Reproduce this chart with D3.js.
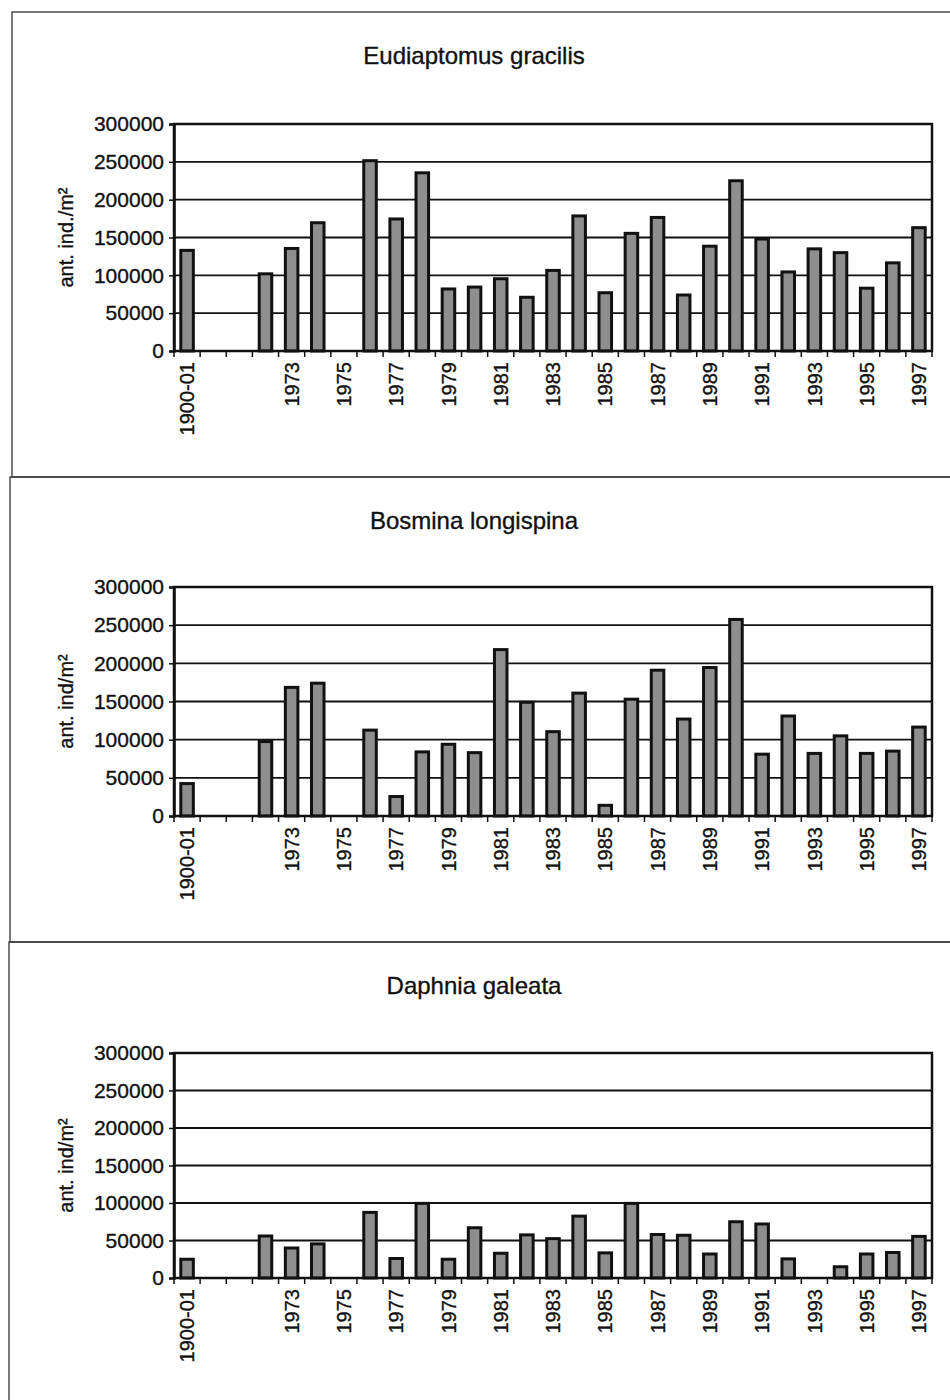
<!DOCTYPE html>
<html>
<head>
<meta charset="utf-8">
<script src="https://cdn.jsdelivr.net/npm/d3@7"></script>
<style>
  html, body { margin: 0; padding: 0; background: #fff; }
  svg { display: block; }
  text { font-family: "Liberation Sans", Arial, sans-serif; fill: #111; stroke: #111; stroke-width: 0.35px; }
</style>
</head>
<body>
<div id="chart"></div>
<script>
// ---- data ----
const categories = ["1900-01", "", "", "1972", "1973", "1974", "1975", "1976", "1977", "1978",
  "1979", "1980", "1981", "1982", "1983", "1984", "1985", "1986", "1987", "1988",
  "1989", "1990", "1991", "1992", "1993", "1994", "1995", "1996", "1997"];

const eudiaptomus = [133000, null, null, 102000, 135500, 169500, 0, 251500, 174500, 235500,
  82000, 84500, 95500, 71000, 106500, 178500, 77000, 155500, 176500, 74000,
  138500, 225000, 148000, 104500, 135000, 130000, 83000, 116500, 163000];

const bosmina = [42500, null, null, 97500, 168500, 174000, 0, 112500, 25500, 84000,
  94000, 83000, 218000, 149000, 110500, 161000, 14000, 153000, 191000, 127000,
  194500, 257500, 81000, 131000, 82000, 105000, 82000, 85000, 116500];

const daphnia = [25000, null, null, 56000, 40000, 45500, 0, 87500, 26000, 99500,
  25000, 67000, 33000, 57500, 52500, 82500, 33500, 99500, 58000, 57000,
  32000, 75000, 72000, 25500, 0, 15000, 32000, 34000, 55500];

const yTicks = [0, 50000, 100000, 150000, 200000, 250000, 300000];

const panels = [
  { title: "Eudiaptomus gracilis", ylabel: "ant. ind./m²", values: eudiaptomus },
  { title: "Bosmina longispina", ylabel: "ant. ind/m²", values: bosmina },
  { title: "Daphnia galeata", ylabel: "ant. ind/m²", values: daphnia }
];

// ---- layout ----
const W = 950, H = 1400;
const frames = [
  { x: 12, y: 12, bottom: 477, plotTop: 124, plotBottom: 351 },
  { x: 10, y: 477, bottom: 942, plotTop: 587, plotBottom: 816 },
  { x: 9, y: 942, bottom: 1410, plotTop: 1053, plotBottom: 1278 }
];
const plotLeft = 174, plotRight = 932;
const fontFam = '"Liberation Sans", Arial, sans-serif';

const svg = d3.select("#chart").append("svg")
  .attr("width", W).attr("height", H);

panels.forEach((p, k) => {
  const f = frames[k];
  const g = svg.append("g");

  // outer frame of the panel
  g.append("rect")
    .attr("x", f.x).attr("y", f.y)
    .attr("width", W + 20 - f.x).attr("height", f.bottom - f.y)
    .attr("fill", "none").attr("stroke", "#333").attr("stroke-width", 1.3);

  const x = d3.scaleBand()
    .domain(d3.range(categories.length))
    .range([plotLeft, plotRight])
    .paddingInner(0.52).paddingOuter(0.26);

  const y = d3.scaleLinear().domain([0, 300000]).range([f.plotBottom, f.plotTop]);

  // title
  g.append("text")
    .attr("x", 474).attr("y", f.y + 46)
    .attr("text-anchor", "middle").attr("dominant-baseline", "middle")
    .style("font-size", "24px")
    .text(p.title);

  // gridlines
  g.append("g").selectAll("line").data(yTicks.filter(t => t > 0 && t < 300000)).join("line")
    .attr("x1", plotLeft).attr("x2", plotRight)
    .attr("y1", d => y(d)).attr("y2", d => y(d))
    .attr("stroke", "#111").attr("stroke-width", 1.8);

  // bars
  g.append("g").selectAll("rect")
    .data(p.values.map((v, i) => ({ i, v })).filter(d => d.v))
    .join("rect")
    .attr("x", d => x(d.i)).attr("width", x.bandwidth())
    .attr("y", d => y(d.v)).attr("height", d => y(0) - y(d.v))
    .attr("fill", "#8e8e8e").attr("stroke", "#111").attr("stroke-width", 3);

  // plot frame
  g.append("rect")
    .attr("x", plotLeft).attr("y", f.plotTop)
    .attr("width", plotRight - plotLeft).attr("height", f.plotBottom - f.plotTop)
    .attr("fill", "none").attr("stroke", "#111").attr("stroke-width", 2.5);

  // y axis
  const yAxis = d3.axisLeft(y).tickValues(yTicks).tickSize(5).tickPadding(5)
    .tickFormat(d3.format("d"));
  const ya = g.append("g").attr("transform", `translate(${plotLeft},0)`).call(yAxis);
  ya.select(".domain").attr("stroke", "#111").attr("stroke-width", 2.5);
  ya.selectAll(".tick line").attr("stroke", "#111").attr("stroke-width", 1.5);
  ya.selectAll("text").style("font-size", "21px").attr("fill", "#111")
    .style("font-family", fontFam);

  // x ticks between categories
  const bounds = d3.range(categories.length + 1).map(i => plotLeft + i * x.step());
  g.append("g").selectAll("line").data(bounds).join("line")
    .attr("x1", d => d).attr("x2", d => d)
    .attr("y1", f.plotBottom).attr("y2", f.plotBottom + 6)
    .attr("stroke", "#111").attr("stroke-width", 1.5);

  // x labels (every other category, rotated)
  const xAxis = d3.axisBottom(x)
    .tickValues(d3.range(0, categories.length, 2))
    .tickFormat(i => categories[i]).tickSize(0);
  const xa = g.append("g").attr("transform", `translate(0,${f.plotBottom})`).call(xAxis);
  xa.select(".domain").remove();
  xa.selectAll("text")
    .attr("transform", "rotate(-90)")
    .attr("x", -11).attr("y", 0).attr("dy", "0.36em")
    .attr("text-anchor", "end")
    .style("font-size", "20px").attr("fill", "#111")
    .style("font-family", fontFam);

  // y label
  const cy = (f.plotTop + f.plotBottom) / 2;
  g.append("text")
    .attr("transform", `translate(68,${cy}) rotate(-90)`)
    .attr("text-anchor", "middle").attr("dominant-baseline", "middle")
    .style("font-size", "20px")
    .text(p.ylabel);
});
</script>
</body>
</html>
